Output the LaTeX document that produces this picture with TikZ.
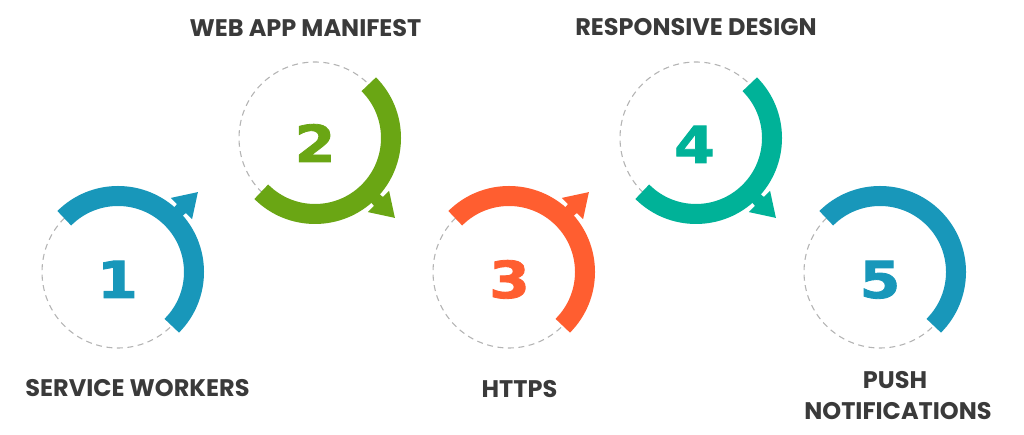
\documentclass[tikz,border=0pt]{standalone}
\usepackage{fontspec}
\setmainfont{Poppins}
\newfontfamily\digitfont[FakeBold=1.6]{DejaVu Sans}
\usetikzlibrary{calc}
\definecolor{cblue}{HTML}{1897BA}
\definecolor{cgreen}{HTML}{6AA614}
\definecolor{corange}{HTML}{FF5E30}
\definecolor{cteal}{HTML}{00B298}
\definecolor{ctext}{HTML}{3A3A3A}
\definecolor{cdash}{HTML}{B4B4B4}
\tikzset{
  dashring/.style={draw=cdash, line width=1.1pt, dash pattern=on 6pt off 4.5pt},
  band/.style={line width=20pt},
  label/.style={anchor=base, inner sep=0pt, text=ctext, font=\fontsize{24}{26}\selectfont\bfseries},
  digit/.style={anchor=base, inner sep=0pt, font=\digitfont\fontsize{51}{52}\selectfont\bfseries},
}
\begin{document}
\begin{tikzpicture}[x=1pt,y=1pt]
\useasboundingbox (0,0) rectangle (1024,435);
\coordinate (c1) at (118,163);
\coordinate (c2) at (315,297);
\coordinate (c3) at (509,163);
\coordinate (c4) at (696,297);
\coordinate (c5) at (880,163);
% dashed rings
\foreach \c in {c1,c2,c3,c4,c5} \draw[dashring] (\c) circle[radius=76];
% bands
\draw[band,cblue] ($(c1)+(135:76)$) arc[start angle=135, end angle=-45, radius=76];
\draw[band,cgreen] ($(c2)+(45:76)$) arc[start angle=45, end angle=-135, radius=76];
\draw[band,corange] ($(c3)+(135:76)$) arc[start angle=135, end angle=-45, radius=76];
\draw[band,cteal] ($(c4)+(45:76)$) arc[start angle=45, end angle=-135, radius=76];
\draw[band,cblue] ($(c5)+(135:76)$) arc[start angle=135, end angle=-45, radius=76];
% arrow heads
\foreach \c/\a/\col in {c1/45/cblue, c2/-45/cgreen, c3/45/corange, c4/-45/cteal}{
  \fill[\col] ($(\c)+(\a:113)$) -- ($(\c)+(\a+9.5:91)$) -- ($(\c)+(\a-9.5:91)$) -- cycle;
  \fill[\col] ($(\c)+(\a+4:91)$) -- ($(\c)+(\a-4:91)$) -- ($(\c)+(\a-4:84)$) -- ($(\c)+(\a+4:84)$) -- cycle;
}
% digits
\node[digit,text=cblue] (d1) at (117.5,137) {\scalebox{1.15}[1]{1}};
\node[digit,text=cgreen] (d2) at (315,273) {\scalebox{1.15}[1]{2}};
\node[digit,text=corange] (d3) at (509.5,137) {\scalebox{1.15}[1]{3}};
\node[digit,text=cteal] (d4) at (694.5,272) {\scalebox{1.15}[1]{4}};
\node[digit,text=cblue] (d5) at (880,137) {\scalebox{1.15}[1]{5}};
% labels
\node[label] (l1) at (137.5,38) {SERVICE WORKERS};
\node[label] (l2) at (305.5,398) {WEB APP MANIFEST};
\node[label] (l3) at (519.5,37) {HTTPS};
\node[label] (l4) at (696,399) {RESPONSIVE DESIGN};
\node[label] (l5a) at (895,46) {PUSH};
\node[label] (l5b) at (898,15) {NOTIFICATIONS};
\end{tikzpicture}
\end{document}
